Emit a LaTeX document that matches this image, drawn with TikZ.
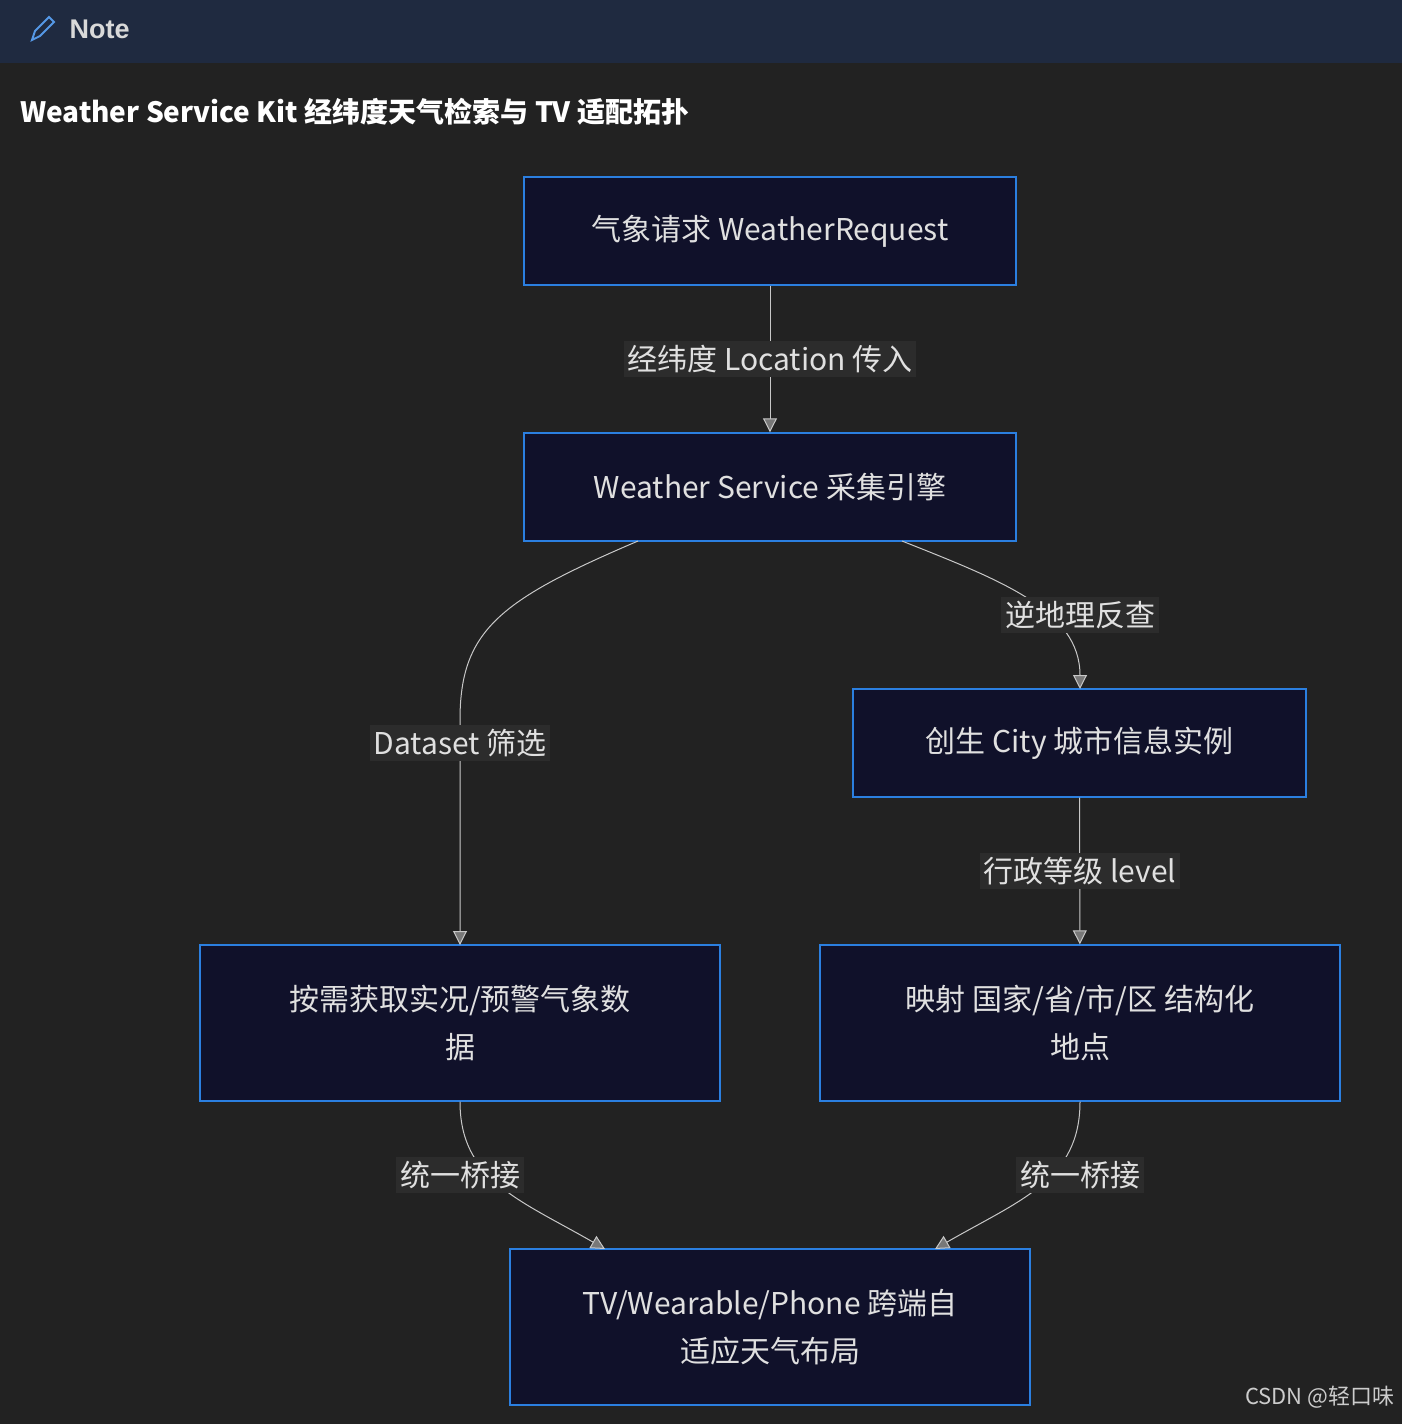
\documentclass[tikz,border=0pt]{standalone}
\usepackage{fontspec}
\setmainfont{Noto Sans CJK SC}
\newfontfamily\ttl{Liberation Sans}
\usetikzlibrary{arrows.meta}
\definecolor{bg}{HTML}{222222}
\definecolor{hdr}{HTML}{1F2A40}
\definecolor{boxf}{HTML}{10112A}
\definecolor{boxd}{HTML}{2B7FE0}
\definecolor{lbl}{HTML}{2C2C2C}
\definecolor{edg}{HTML}{C8C8C8}
\begin{document}
\begin{tikzpicture}[x=1pt,y=-1pt,
 box/.style={draw=boxd,line width=1.4pt,fill=boxf,text=white!88!black,align=center,font=\fontsize{30}{48}\selectfont,inner sep=0pt},
 lab/.style={fill=lbl,text=white!88!black,font=\fontsize{30}{34}\selectfont,inner sep=4pt},
 ed/.style={draw=edg,line width=1pt,-{Triangle[open,length=14pt,width=14pt,fill=edg!60!black]}}]
\fill[bg] (0,0) rectangle (1402,1424);
\fill[hdr] (0,0) rectangle (1402,63);
\node[anchor=west,text=white!85!black,font=\ttl\bfseries\fontsize{27}{30}\selectfont] (nt) at (66,29) {Note};
\draw[boxd!80!white,line width=2pt] (32,40)--(35,31)--(49,17)--(54,22)--(40,36)--cycle;
\node[anchor=west,text=white,font=\bfseries\fontsize{28}{30}\selectfont,inner sep=0pt] (tt) at (20,112) {Weather Service Kit 经纬度天气检索与 TV 适配拓扑};
\node[box,minimum width=492pt,minimum height=108pt] (a) at (770,231) {气象请求 WeatherRequest};
\node[box,minimum width=492pt,minimum height=108pt] (b) at (770,487) {Weather Service 采集引擎};
\node[box,minimum width=453pt,minimum height=108pt] (c) at (1079.5,743) {创生 City 城市信息实例};
\node[box,minimum width=520pt,minimum height=156pt] (d) at (460,1023) {按需获取实况/预警气象数\\据};
\node[box,minimum width=520pt,minimum height=156pt] (e) at (1080,1023) {映射 国家/省/市/区 结构化\\地点};
\node[box,minimum width=520pt,minimum height=156pt] (f) at (770,1327) {TV/Wearable/Phone 跨端自\\适应天气布局};
\coordinate (b1) at (638,541); \coordinate (b2) at (902,541);
\coordinate (d1) at (460,945); \coordinate (c1) at (1080,689);
\coordinate (f1) at (605,1249); \coordinate (f2) at (935,1249);
\draw[ed] (a) -- (b);
\draw[ed] (b1) .. controls (500,600) and (460,630) .. (460,720) -- (d1);
\draw[ed] (b2) .. controls (1000,580) and (1080,610) .. (c1);
\draw[ed] (c) -- (e);
\draw[ed] (d.south) .. controls (460,1180) and (520,1200) .. (f1);
\draw[ed] (e.south) .. controls (1080,1180) and (1020,1200) .. (f2);
\node[lab] (l1) at (770,359) {经纬度 Location 传入};
\node[lab] (l2) at (460,743) {Dataset 筛选};
\node[lab] (l3) at (1080,615) {逆地理反查};
\node[lab] (l4) at (1080,871) {行政等级 level};
\node[lab] (l5) at (460,1175) {统一桥接};
\node[lab] (l6) at (1080,1175) {统一桥接};
\node[anchor=east,text=white!80!black,font=\fontsize{22}{24}\selectfont] (cs) at (1398,1397) {CSDN @轻口味};
\end{tikzpicture}
\end{document}
